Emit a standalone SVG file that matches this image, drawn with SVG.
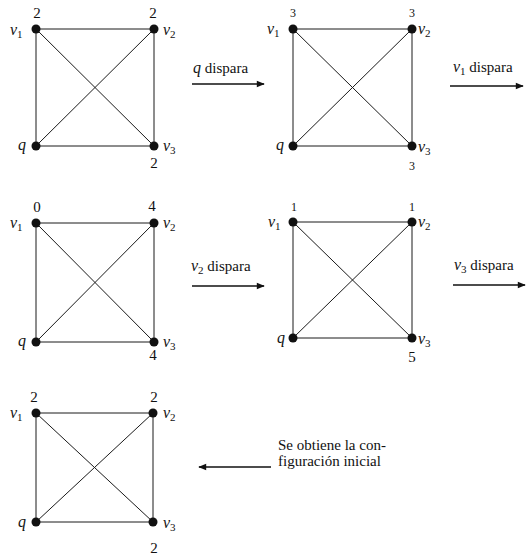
<svg xmlns="http://www.w3.org/2000/svg" width="532" height="556" viewBox="0 0 532 556">
<style>
  .e { stroke: #1a1a1a; stroke-width: 1; fill: none; }
  .n { fill: #111; }
  .v { font-family: 'Liberation Serif', 'DejaVu Serif', serif; font-style: italic; font-size: 16px; fill: #111; }
  .s { font-style: normal; font-size: 11px; }
  .num { font-family: 'Liberation Serif', 'DejaVu Serif', serif; font-size: 15px; fill: #111; text-anchor: middle; }
  .sm { font-family: 'Liberation Serif', 'DejaVu Serif', serif; font-size: 12px; fill: #111; text-anchor: middle; }
  .t { font-family: 'Liberation Serif', 'DejaVu Serif', serif; font-size: 15px; fill: #111; }
  .a { stroke: #111; stroke-width: 1.4; fill: none; }
</style>
<defs>
  <marker id="ah" viewBox="0 0 10 10" refX="9" refY="5" markerWidth="9" markerHeight="8" markerUnits="userSpaceOnUse" orient="auto">
    <path d="M0,1 L10,5 L0,9 z" fill="#111"/>
  </marker>
</defs>

<g id="connectors">
  <g>
    <line class="e" x1="36" y1="29" x2="154" y2="29"/>
    <line class="e" x1="36" y1="29" x2="36" y2="146"/>
    <line class="e" x1="154" y1="29" x2="154" y2="146"/>
    <line class="e" x1="36" y1="146" x2="154" y2="146"/>
    <line class="e" x1="36" y1="29" x2="154" y2="146"/>
    <line class="e" x1="154" y1="29" x2="36" y2="146"/>
  </g>
  <g>
    <line class="e" x1="293" y1="29" x2="412" y2="29"/>
    <line class="e" x1="293" y1="29" x2="293" y2="146"/>
    <line class="e" x1="412" y1="29" x2="412" y2="146"/>
    <line class="e" x1="293" y1="146" x2="412" y2="146"/>
    <line class="e" x1="293" y1="29" x2="412" y2="146"/>
    <line class="e" x1="412" y1="29" x2="293" y2="146"/>
  </g>
  <g>
    <line class="e" x1="36" y1="223" x2="154" y2="223"/>
    <line class="e" x1="36" y1="223" x2="36" y2="342"/>
    <line class="e" x1="154" y1="223" x2="154" y2="342"/>
    <line class="e" x1="36" y1="342" x2="154" y2="342"/>
    <line class="e" x1="36" y1="223" x2="154" y2="342"/>
    <line class="e" x1="154" y1="223" x2="36" y2="342"/>
  </g>
  <g>
    <line class="e" x1="293" y1="222" x2="412" y2="222"/>
    <line class="e" x1="293" y1="222" x2="293" y2="338"/>
    <line class="e" x1="412" y1="222" x2="412" y2="338"/>
    <line class="e" x1="293" y1="338" x2="412" y2="338"/>
    <line class="e" x1="293" y1="222" x2="412" y2="338"/>
    <line class="e" x1="412" y1="222" x2="293" y2="338"/>
  </g>
  <g>
    <line class="e" x1="36" y1="413" x2="153" y2="413"/>
    <line class="e" x1="36" y1="413" x2="36" y2="522"/>
    <line class="e" x1="153" y1="413" x2="153" y2="522"/>
    <line class="e" x1="36" y1="522" x2="153" y2="522"/>
    <line class="e" x1="36" y1="413" x2="153" y2="522"/>
    <line class="e" x1="153" y1="413" x2="36" y2="522"/>
  </g>
  <line class="a" x1="192" y1="84" x2="264" y2="84" marker-end="url(#ah)"/>
  <line class="a" x1="450" y1="86" x2="523" y2="86" marker-end="url(#ah)"/>
  <line class="a" x1="192" y1="286" x2="264" y2="286" marker-end="url(#ah)"/>
  <line class="a" x1="453" y1="285" x2="525" y2="285" marker-end="url(#ah)"/>
  <line class="a" x1="271" y1="467" x2="199" y2="467" marker-end="url(#ah)"/>
</g>

<g id="g1-v1"><circle class="n" cx="36" cy="29" r="4.5"/><text class="v" x="10" y="35">v<tspan class="s" dy="3">1</tspan></text><text class="num" x="37" y="18">2</text></g>
<g id="g1-v2"><circle class="n" cx="154" cy="29" r="4.5"/><text class="v" x="163" y="35">v<tspan class="s" dy="3">2</tspan></text><text class="num" x="153" y="18">2</text></g>
<g id="g1-q"><circle class="n" cx="36" cy="146" r="4.5"/><text class="v" x="18" y="150">q</text></g>
<g id="g1-v3"><circle class="n" cx="154" cy="146" r="4.5"/><text class="v" x="163" y="151">v<tspan class="s" dy="3">3</tspan></text><text class="num" x="154" y="168">2</text></g>

<g id="g2-v1"><circle class="n" cx="293" cy="29" r="4.5"/><text class="v" x="267" y="34">v<tspan class="s" dy="3">1</tspan></text><text class="sm" x="293" y="17">3</text></g>
<g id="g2-v2"><circle class="n" cx="412" cy="29" r="4.5"/><text class="v" x="418" y="34">v<tspan class="s" dy="3">2</tspan></text><text class="sm" x="412" y="17">3</text></g>
<g id="g2-q"><circle class="n" cx="293" cy="146" r="4.5"/><text class="v" x="276" y="150">q</text></g>
<g id="g2-v3"><circle class="n" cx="412" cy="146" r="4.5"/><text class="v" x="418" y="152">v<tspan class="s" dy="3">3</tspan></text><text class="sm" x="412" y="170">3</text></g>

<g id="g3-v1"><circle class="n" cx="36" cy="223" r="4.5"/><text class="v" x="10" y="228">v<tspan class="s" dy="3">1</tspan></text><text class="num" x="37" y="212">0</text></g>
<g id="g3-v2"><circle class="n" cx="154" cy="223" r="4.5"/><text class="v" x="163" y="228">v<tspan class="s" dy="3">2</tspan></text><text class="num" x="152" y="211">4</text></g>
<g id="g3-q"><circle class="n" cx="36" cy="342" r="4.5"/><text class="v" x="18" y="346">q</text></g>
<g id="g3-v3"><circle class="n" cx="154" cy="342" r="4.5"/><text class="v" x="163" y="347">v<tspan class="s" dy="3">3</tspan></text><text class="num" x="153" y="360">4</text></g>

<g id="g4-v1"><circle class="n" cx="293" cy="222" r="4.5"/><text class="v" x="268" y="227">v<tspan class="s" dy="3">1</tspan></text><text class="sm" x="294" y="211">1</text></g>
<g id="g4-v2"><circle class="n" cx="412" cy="222" r="4.5"/><text class="v" x="418" y="227">v<tspan class="s" dy="3">2</tspan></text><text class="sm" x="412" y="211">1</text></g>
<g id="g4-q"><circle class="n" cx="293" cy="338" r="4.5"/><text class="v" x="277" y="343">q</text></g>
<g id="g4-v3"><circle class="n" cx="412" cy="338" r="4.5"/><text class="v" x="418" y="344">v<tspan class="s" dy="3">3</tspan></text><text class="num" x="412" y="362">5</text></g>

<g id="g5-v1"><circle class="n" cx="36" cy="413" r="4.5"/><text class="v" x="10" y="418">v<tspan class="s" dy="3">1</tspan></text><text class="num" x="34" y="402">2</text></g>
<g id="g5-v2"><circle class="n" cx="153" cy="413" r="4.5"/><text class="v" x="163" y="418">v<tspan class="s" dy="3">2</tspan></text><text class="num" x="154" y="402">2</text></g>
<g id="g5-q"><circle class="n" cx="36" cy="522" r="4.5"/><text class="v" x="18" y="527">q</text></g>
<g id="g5-v3"><circle class="n" cx="153" cy="522" r="4.5"/><text class="v" x="163" y="528">v<tspan class="s" dy="3">3</tspan></text><text class="num" x="154" y="553">2</text></g>

<g id="lbl1"><text class="t" x="193" y="73"><tspan class="v">q</tspan>  dispara</text></g>
<g id="lbl2"><text class="t" x="453" y="72"><tspan class="v">v</tspan><tspan font-size="11" dy="3">1</tspan><tspan dy="-3"> dispara</tspan></text></g>
<g id="lbl3"><text class="t" x="191" y="271"><tspan class="v">v</tspan><tspan font-size="11" dy="3">2</tspan><tspan dy="-3"> dispara</tspan></text></g>
<g id="lbl4"><text class="t" x="454" y="270"><tspan class="v">v</tspan><tspan font-size="11" dy="3">3</tspan><tspan dy="-3"> dispara</tspan></text></g>
<g id="lbl5"><text class="t" x="278" y="450">Se obtiene la con-</text><text class="t" x="278" y="466">figuración inicial</text></g>
</svg>
